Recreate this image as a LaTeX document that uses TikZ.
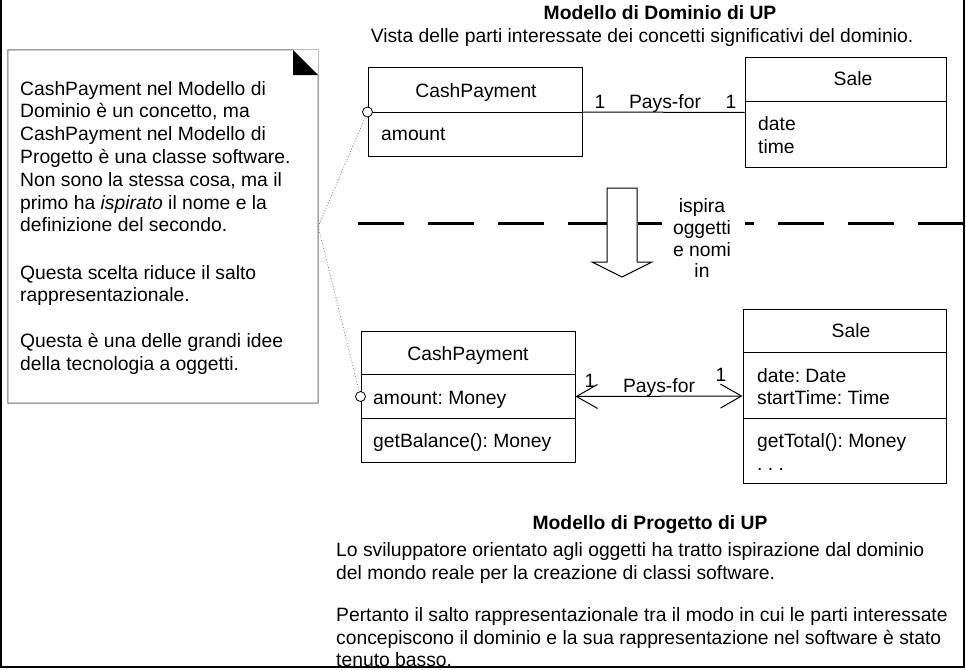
\documentclass[tikz,border=0pt]{standalone}
\usepackage{fontspec}
\setmainfont{Liberation Sans}
\usetikzlibrary{arrows.meta}
\definecolor{notegray}{RGB}{110,110,110}
\definecolor{foldgray}{RGB}{190,190,190}
\definecolor{linkgray}{RGB}{120,120,120}
\frenchspacing
\begin{document}
\begin{tikzpicture}[x=1pt,y=-1pt,
  txt/.style={inner sep=0pt, font=\fontsize{19.3}{22.8}\selectfont},
  lt/.style={txt, anchor=base west},
  ct/.style={txt, anchor=base},
  bt/.style={txt, anchor=base, font=\fontsize{19.3}{22.8}\selectfont\bfseries},
  cls/.style={draw=black, line width=1pt, fill=white, inner sep=0pt},
  sep/.style={draw=black, line width=1pt},
  port/.style={circle, draw=black, line width=0.8pt, fill=white, minimum size=10pt, inner sep=0pt},
  notelink/.style={draw=linkgray, dotted, line width=0.8pt},
  assoc/.style={draw=black, line width=1pt},
  nav/.style={assoc, {Straight Barb[length=21pt,width=24pt,line width=1pt]}-{Straight Barb[length=21pt,width=24pt,line width=1pt]}}
]
\useasboundingbox (0,0) rectangle (966,669);
\fill[white] (0,0) rectangle (966,669);

% ---------- note ----------
\node[inner sep=0pt, minimum width=310pt, minimum height=353pt] (note) at (163,226.5) {};
\draw[notegray, line width=1pt] (note.north west -| 293,0) -- (note.north west) -- (note.south west) -- (note.south east) -- (318,75);
\draw[foldgray, line width=1pt] (293,50) -- (318,50) -- (318,75);
\fill[black] (293,50) -- (293,75) -- (318,75) -- cycle;
\node[lt] (n1) at (20,95) {CashPayment nel Modello di};
\node[lt] (n2) at (20,117.8) {Dominio è un concetto, ma};
\node[lt] (n3) at (20,140.6) {CashPayment nel Modello di};
\node[lt] (n4) at (20,163.4) {Progetto è una classe software.};
\node[lt] (n5) at (20,186.2) {Non sono la stessa cosa, ma il};
\node[lt] (n6) at (20,209) {primo ha \textit{ispirato} il nome e la};
\node[lt] (n7) at (20,231.8) {definizione del secondo.};
\node[lt] (n8) at (20,279) {Questa scelta riduce il salto};
\node[lt] (n9) at (20,301.8) {rappresentazionale.};
\node[lt] (n10) at (20,347.5) {Questa è una delle grandi idee};
\node[lt] (n11) at (20,370.3) {della tecnologia a oggetti.};

% ---------- domain model ----------
\node[bt] (dtitle) at (660,20) {Modello di Dominio di UP};
\node[ct] (dsub) at (642,43) {Vista delle parti interessate dei concetti significativi del dominio.};

\node[cls, minimum width=214pt, minimum height=88pt] (dcp) at (475,112) {};
\draw[sep] (dcp.west) -- (dcp.east);
\node[ct] (dcpname) at (476,97) {CashPayment};
\node[lt] (dcpattr) at (381,140) {amount};

\node[cls, minimum width=201pt, minimum height=109pt] (dsale) at (845.5,112.5) {};
\draw[sep] (745,101) -- (946,101);
\node[ct] (dsalename) at (853,85) {Sale};
\node[lt] (dsalea1) at (758,130) {date};
\node[lt] (dsalea2) at (758,153) {time};

\draw[assoc] (dcp.east) -- (dsale.west);
\node[ct] (dm1) at (600,108) {1};
\node[ct] (dlab) at (665,108) {Pays-for};
\node[ct] (dm2) at (731,108) {1};

% ---------- separator and inspiration arrow ----------
\draw[line width=3pt, dash pattern=on 46pt off 24pt] (358,223) -- (966,223);
\fill[white] (662,196) rectangle (745,284);
\node[ct] (i1) at (702,212) {ispira};
\node[ct] (i2) at (702,234) {oggetti};
\node[ct] (i3) at (702,256) {e nomi};
\node[ct] (i4) at (702,277) {in};
\draw[line width=1pt, fill=white] (607,188) -- (637,188) -- (637,262) -- (652,262) -- (622,277) -- (592,262) -- (607,262) -- cycle;

% ---------- design model ----------
\node[cls, minimum width=214pt, minimum height=131pt] (pcp) at (468,396.5) {};
\draw[sep] (361,374) -- (575,374);
\draw[sep] (361,418) -- (575,418);
\node[ct] (pcpname) at (468,360) {CashPayment};
\node[lt] (pcpattr) at (373,404) {amount: Money};
\node[lt] (pcpop) at (373,447) {getBalance(): Money};

\node[cls, minimum width=203pt, minimum height=174pt] (psale) at (844.5,396) {};
\draw[sep] (743,352) -- (946,352);
\draw[sep] (743,418) -- (946,418);
\node[ct] (psalename) at (851,337) {Sale};
\node[lt] (psalea1) at (757,382) {date: Date};
\node[lt] (psalea2) at (757,404) {startTime: Time};
\node[lt] (psaleop1) at (757,447) {getTotal(): Money};
\node[lt] (psaleop2) at (757,470) {. . .};

\draw[nav] (pcp.east) -- (psale.west);
\node[ct] (pm1) at (590,387) {1};
\node[ct] (plab) at (659,392) {Pays-for};
\node[ct] (pm2) at (721,381) {1};

% ---------- note links ----------
\node[port] (c1) at (dcp.west) {};
\node[port] (c2) at (pcp.west) {};
\draw[notelink] (note.east) -- (c1);
\draw[notelink] (note.east) -- (c2);

% ---------- bottom text ----------
\node[bt] (ptitle) at (650,529) {Modello di Progetto di UP};
\node[lt] (b1) at (336,556) {Lo sviluppatore orientato agli oggetti ha tratto ispirazione dal dominio};
\node[lt] (b2) at (336,579) {del mondo reale per la creazione di classi software.};
\node[lt] (b3) at (336,621) {Pertanto il salto rappresentazionale tra il modo in cui le parti interessate};
\node[lt] (b4) at (336,644) {concepiscono il dominio e la sua rappresentazione nel software è stato};
\node[lt] (b5) at (336,666) {tenuto basso.};

% ---------- frame ----------
\draw[line width=2pt] (1,0) -- (1,667) -- (964,667) -- (964,0);
\end{tikzpicture}
\end{document}
